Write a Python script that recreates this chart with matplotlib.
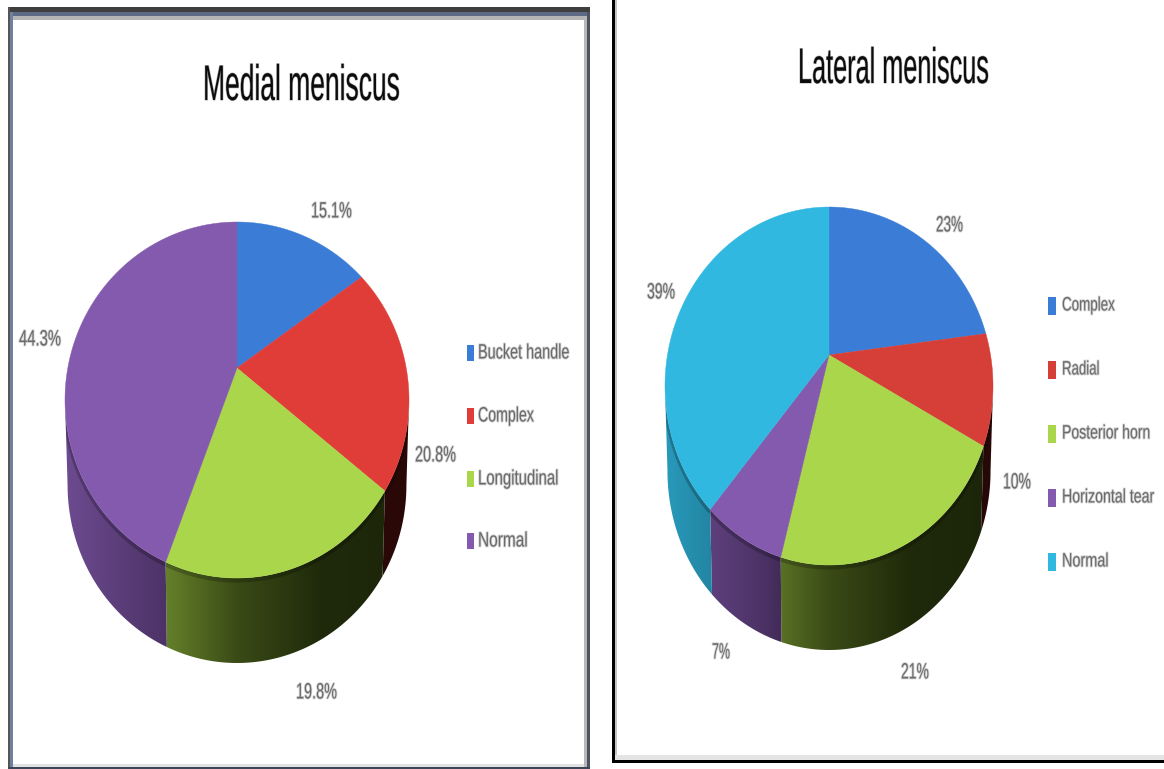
import numpy as np
import matplotlib
matplotlib.use("Agg")
import matplotlib.pyplot as plt
from matplotlib.colors import to_rgb
from matplotlib.patches import Rectangle, Polygon
from matplotlib.patheffects import AbstractPathEffect
from matplotlib.transforms import Affine2D

# ---- data ----
medial_title = "Medial meniscus"
medial_categories = ["Bucket handle", "Complex", "Longitudinal", "Normal"]
medial_values = [15.1, 20.8, 19.8, 44.3]
medial_labels = ["15.1%", "20.8%", "19.8%", "44.3%"]

lateral_title = "Lateral meniscus"
lateral_categories = ["Complex", "Radial", "Posterior horn", "Horizontal tear", "Normal"]
lateral_values = [23, 10, 21, 7, 39]
lateral_labels = ["23%", "10%", "21%", "7%", "39%"]

# ---- styles ----
BLUE, RED, GREEN, PURPLE, CYAN = "#3b7dd6", "#e03d38", "#a9d64b", "#835aad", "#31b8e0"
medial_colors = [BLUE, RED, GREEN, PURPLE]
lateral_colors = [BLUE, "#d53f37", GREEN, PURPLE, CYAN]
TEXT = "#6a6a6a"
FONT = "Liberation Sans"

fig = plt.figure(figsize=(11.64, 7.69), dpi=100, facecolor="white")
ax = fig.add_axes([0, 0, 1, 1])
ax.axis("off")


def rect(x0, y0, x1, y1, color, z=1):
    ax.add_patch(Rectangle((x0, y0), x1 - x0, y1 - y0, fc=color, ec="none", zorder=z))


# frames: left panel
rect(8, 7, 590, 12, "#3f3f3f")
rect(8, 12, 590, 16, "#5d6b85")
rect(13, 16, 584, 20, "#b5b5b5")
rect(8, 7, 10, 769, "#555555")
rect(10, 12, 13, 769, "#6f80a0")
rect(584, 16, 587, 767, "#b8b8b8")
rect(587, 12, 590, 769, "#4a5565")
rect(13, 764, 584, 767, "#e2e2e2")
rect(8, 767, 590, 769, "#3c4658")
# frames: right panel
rect(612, 0, 615, 763, "#000000")
rect(615, 0, 617, 760, "#c4c4c4")
rect(615, 755, 1164, 760, "#e4e4e4")
rect(612, 760, 1164, 763, "#000000")


def warp(theta, a):
    """Perspective mapping of a true pie angle onto the drawn rim (radians, clockwise from top)."""
    half = theta / 2.0
    return 2 * np.arctan2((1 - a) * np.sin(half), (1 + a) * np.cos(half)) % (2 * np.pi)


def side_colour(base, u):
    m = np.interp(u, [-1, -0.42, 0, 0.5, 1], [0.84, 0.62, 0.38, 0.22, 0.2])
    c = base * m
    return np.clip(c - c.min() * 0.6 * (1 - m) ** 2, 0, 1)


def pie3d(values, colors, cx, cy, rx, ry, apex_y, depth):
    a = (cy - apex_y) / ry
    a = a / (1 + np.sqrt(1 - a * a))
    vals = np.asarray(values, float)
    edges = np.cumsum(vals) / vals.sum() * 2 * np.pi
    rim = [0.0] + [warp(e, a) for e in edges[:-1]] + [2 * np.pi]
    for i, col in enumerate(colors):
        base = np.array(to_rgb(col))
        t0, t1 = max(rim[i], np.pi / 2), min(rim[i + 1], 3 * np.pi / 2)
        if t1 > t0:
            ts = np.linspace(t0, t1, 120)
            xt, yt = cx + rx * np.sin(ts), cy - ry * np.cos(ts)
            xb, yb = cx + 0.985 * rx * np.sin(ts), cy + depth - ry * np.cos(ts)
            poly = Polygon(np.c_[np.r_[xt, xb[::-1]], np.r_[yt, yb[::-1]]], closed=True,
                           fc="none", ec="none", transform=ax.transData)
            ax.add_patch(poly)
            x0, x1 = min(xt.min(), xb.min()), max(xt.max(), xb.max())
            us = (np.linspace(x0, x1, 200) - cx) / rx
            grad = np.array([[side_colour(base, u) for u in us]])
            ax.imshow(grad, extent=[x0, x1, yb.max() + 1, yt.min() - 1], aspect="auto",
                      interpolation="bilinear", clip_path=poly, zorder=2)
            # soft shadow below the top rim, kept inside the side wall
            shade, = ax.plot(xt, yt + 2.5, color="black", alpha=0.22, lw=3, zorder=2.5,
                             solid_capstyle="butt")
            shade.set_clip_path(poly)
    for i, col in enumerate(colors):
        ts = np.linspace(rim[i], rim[i + 1], 120)
        xs = np.r_[cx, cx + rx * np.sin(ts)]
        ys = np.r_[apex_y, cy - ry * np.cos(ts)]
        ax.fill(xs, ys, color=col, lw=0.3, zorder=3)


pie3d(medial_values, medial_colors, 237, 400, 172, 178, 368, 85)
pie3d(lateral_values, lateral_colors, 829, 386, 164, 179, 355, 85)
ax.set_xlim(0, 1164)
ax.set_ylim(769, 0)


class SqueezeX(AbstractPathEffect):
    """Narrow a text horizontally around its anchor, with a faint halo for the soft look."""

    def __init__(self, text, width, blur):
        super().__init__()
        self.text, self.width, self.blur = text, width, blur

    def draw_path(self, renderer, gc, tpath, affine, rgbFace=None):
        ext = self.text.get_window_extent(fig.canvas.get_renderer())
        sx = self.width / ext.width
        x0 = ax.transData.transform(self.text.get_position())[0]
        new = affine + Affine2D().translate(-x0, 0).scale(sx, 1).translate(x0, 0)
        if self.blur:
            g = renderer.new_gc()
            g.copy_properties(gc)
            g.set_linewidth(self.blur)
            g.set_alpha(0.3)
            g.set_foreground(rgbFace)
            renderer.draw_path(g, tpath, new, None)
            g.restore()
        renderer.draw_path(gc, tpath, new, rgbFace)


def label(left, y, s, width, size=16, ha="center", color=TEXT, blur=1.2):
    x = {"left": left, "center": left + width / 2, "right": left + width}[ha]
    t = ax.text(x, y, s, fontsize=size, ha=ha, va="center", color=color, family=FONT, zorder=5)
    t.set_path_effects([SqueezeX(t, width, blur)])


label(203, 87, medial_title, 197, size=36, color="#0c0c0c", blur=0.8)
label(798, 70, lateral_title, 191, size=36, color="#0c0c0c", blur=0.8)

medial_label_x = [311, 415, 296, 19]
medial_label_y = [212, 456, 693, 340]
medial_label_w = [41, 41, 41, 42]
for x, y, w, s in zip(medial_label_x, medial_label_y, medial_label_w, medial_labels):
    label(x, y, s, w)

lateral_label_x = [936, 1003, 901, 712, 647]
lateral_label_y = [226, 483, 673, 653, 293]
lateral_label_w = [27, 28, 28, 18, 28]
lateral_label_ha = ["center", "right", "center", "center", "center"]
for x, y, w, s, ha in zip(lateral_label_x, lateral_label_y, lateral_label_w, lateral_labels, lateral_label_ha):
    label(x, y, s, w, ha=ha)

for y, s, c, w in zip([353, 416, 479, 541], medial_categories, medial_colors, [92, 56, 81, 50]):
    rect(467, y - 8, 474, y + 8, c)
    label(478, y, s, w, size=15)
for y, s, c, w in zip([306, 370, 434, 498, 562], lateral_categories, lateral_colors, [53, 38, 89, 93, 47]):
    rect(1048, y - 9, 1056, y + 9, c)
    label(1062, y, s, w, size=14, ha="right")

fig.savefig("out.png", dpi=100, facecolor="white")
